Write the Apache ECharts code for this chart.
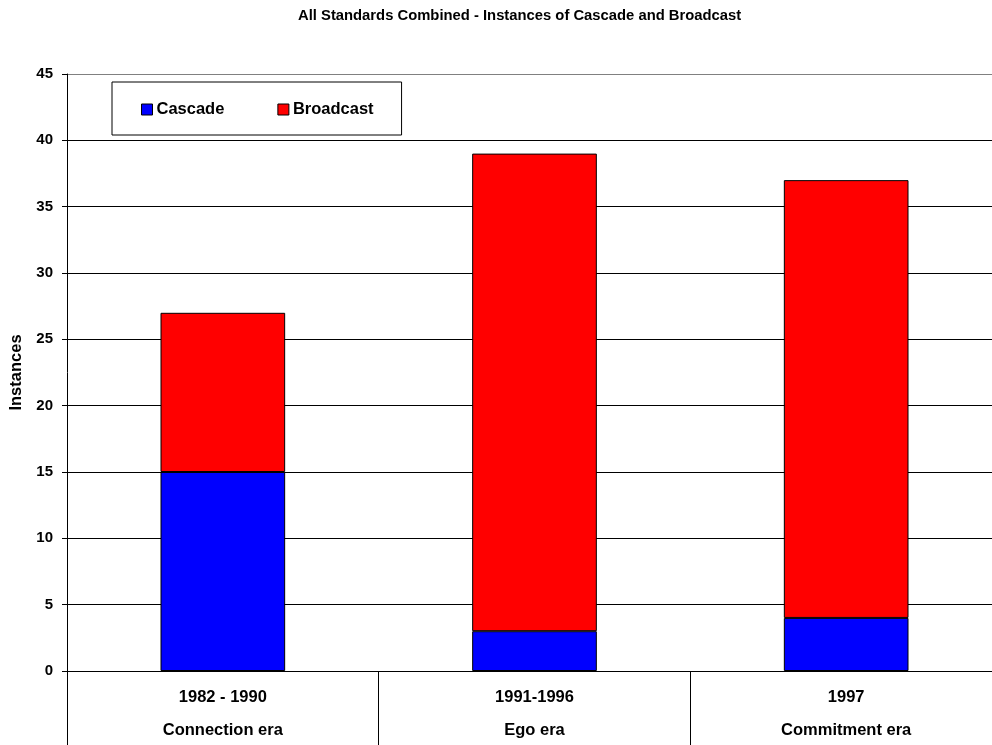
<!DOCTYPE html>
<html>
<head>
<meta charset="utf-8">
<script src="https://cdn.jsdelivr.net/npm/echarts@6/dist/echarts.min.js"></script>
<style>
  html, body { margin: 0; padding: 0; background: #fff; }
  #chart { width: 992px; height: 745px; }
</style>
</head>
<body>
<div id="chart"></div>
<script>
// Eras and their year ranges
const periods = ['1982 - 1990', '1991-1996', '1997'];
const eras = ['Connection era', 'Ego era', 'Commitment era'];

// Instances per era
const cascade = [15, 3, 4];
const broadcast = [12, 36, 33];

// Value axis settings
const yMin = 0, yMax = 45, yStep = 5;

const categories = periods.map((p, i) => p + '\n' + eras[i]);

const font = 'Arial, "Liberation Sans", sans-serif';

// Every gridline is black except the top border of the plot
const splitColors = [];
for (let v = yMin; v <= yMax; v += yStep) splitColors.push(v === yMax ? '#808080' : '#000');

const chart = echarts.init(document.getElementById('chart'), null, { renderer: 'canvas' });
chart.setOption({
  animation: false,
  backgroundColor: '#fff',
  textStyle: { fontFamily: font },
  title: {
    text: 'All Standards Combined - Instances of Cascade and Broadcast',
    left: 298,
    top: 8,
    padding: 0,
    textStyle: { fontSize: 14.8, fontWeight: 'bold', color: '#000', fontFamily: font }
  },
  legend: {
    left: 112,
    top: 82,
    orient: 'horizontal',
    padding: [19, 28, 17, 29],
    itemGap: 53,
    itemWidth: 11,
    itemHeight: 11,
    icon: 'rect',
    itemStyle: { borderColor: '#000', borderWidth: 1 },
    borderColor: '#000',
    borderWidth: 1,
    backgroundColor: '#fff',
    textStyle: { fontSize: 16.5, fontWeight: 'bold', color: '#000', fontFamily: font, padding: [0, 0, 0, -1] },
    data: ['Cascade', 'Broadcast']
  },
  grid: { left: 67, top: 74, width: 935, bottom: 74, containLabel: false, outerBoundsMode: 'none' },
  xAxis: {
    type: 'category',
    data: categories,
    axisLine: { show: true, lineStyle: { color: '#000', width: 1 } },
    axisTick: { show: true, length: 74, interval: 0, alignWithLabel: false, lineStyle: { color: '#000' } },
    axisLabel: {
      interval: 0,
      margin: 10,
      fontSize: 16.5,
      fontWeight: 'bold',
      color: '#000',
      lineHeight: 33,
      fontFamily: font
    },
    splitLine: { show: false }
  },
  yAxis: {
    type: 'value',
    min: yMin,
    max: yMax,
    interval: yStep,
    name: 'Instances',
    nameLocation: 'middle',
    nameRotate: 90,
    nameGap: 41,
    nameTextStyle: { fontSize: 16.5, fontWeight: 'bold', color: '#000', fontFamily: font },
    axisLine: { show: true, lineStyle: { color: '#000', width: 1 } },
    axisTick: { show: true, length: 5, lineStyle: { color: '#000' } },
    axisLabel: { margin: 14, fontSize: 15, fontWeight: 'bold', color: '#000', fontFamily: font },
    splitLine: { show: true, lineStyle: { color: splitColors, width: 1 } }
  },
  series: [
    {
      name: 'Cascade',
      type: 'bar',
      stack: 'total',
      barWidth: '40%',
      data: cascade,
      itemStyle: { color: '#0000ff', borderColor: '#000', borderWidth: 1 }
    },
    {
      name: 'Broadcast',
      type: 'bar',
      stack: 'total',
      barWidth: '40%',
      data: broadcast,
      itemStyle: { color: '#ff0000', borderColor: '#000', borderWidth: 1 }
    }
  ]
});
</script>
</body>
</html>
